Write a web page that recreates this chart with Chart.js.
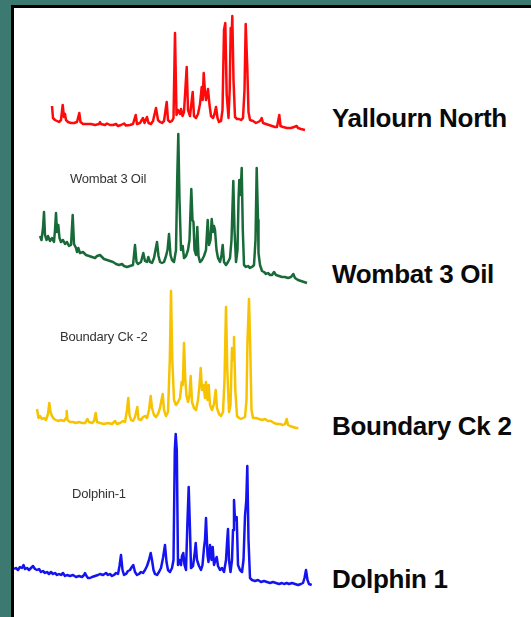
<!DOCTYPE html>
<html>
<head>
<meta charset="utf-8">
<script src="https://cdn.jsdelivr.net/npm/chart.js@4.4.1/dist/chart.umd.min.js"></script>
<style>
  html, body { margin:0; padding:0; }
  body { width:531px; height:617px; background:#3c7a71; position:relative; overflow:hidden; font-family:"Liberation Sans", Arial, sans-serif; }
  #panel { position:absolute; left:11px; top:5px; width:520px; height:612px; background:#fff; border-left:3px solid #000; border-top:3px solid #000; }
  canvas { position:absolute; left:14px; }
  .big { position:absolute; left:332px; font-size:26px; line-height:26px; font-weight:bold; color:#0a0a0a; white-space:nowrap; letter-spacing:-0.3px; }
  .small { position:absolute; font-size:13px; line-height:13px; color:#333; white-space:nowrap; letter-spacing:-0.2px; }
</style>
</head>
<body>
<div id="panel"></div>
<canvas id="c1" width="300" height="125" style="top:10px"></canvas>
<canvas id="c2" width="300" height="160" style="top:130px"></canvas>
<canvas id="c3" width="300" height="150" style="top:285px"></canvas>
<canvas id="c4" width="300" height="165" style="top:430px"></canvas>
<div class="big" style="top:105px">Yallourn North</div>
<div class="big" style="top:261px">Wombat 3 Oil</div>
<div class="big" style="top:413px">Boundary Ck 2</div>
<div class="big" style="top:566px">Dolphin 1</div>
<div class="small" style="top:172px;left:70px">Wombat 3 Oil</div>
<div class="small" style="top:330px;left:60px">Boundary Ck -2</div>
<div class="small" style="top:487px;left:72px">Dolphin-1</div>
<script>
// Retention (scan) positions and detector signal for each sample
const yallournScan = [52,53,55,57,59,61,62.7,64,65,66,68,71,74,77,79.3,80.5,83,87,91,95,99,100,101,105,107,110,113,116,118,121,124,126,130,133,135.7,137,140,143,144.5,147,148.5,151,153,156,158,160,162,164,166.7,168,170,172,173.5,175,176.5,178,180,181,182.5,184,186.7,188,190,192.7,194,196,198,200,201.7,202.7,203.7,205,206,208,209.5,211,213,214.5,216,217.5,219,221,222.5,224,225.3,226.7,228.5,229.7,230.7,231.5,232.3,233.5,235,237,239,241,243,244.5,245.7,247.3,248.5,250,253,256,258,260,261.7,263,266,269,272,275,277,279.3,280.5,283,287,291,294,296.7,298,301,305];
const yallournSignal = [29,17,15,14,13,15,30,18,21,15,13,12,12,13,22,13,11,11,11,10,11,13,11,10,11.5,10,10,11,9,10,11.5,9.5,10,11,20,11,12,17,12,18,12,11,14,27,15,13,12,14,33,15,13,14,17,102,20,25,21,26,19,23,68,25,19,43,19,17,21,31,48,35,62,43,35,46,30,19,17,21,28,17,13,14,25,105,112,40,17,45,107,95,119,55,18,16,16,15,17,45,111,67,23,15,14,12,13,14,17,12,11,10,9,8,8,20,9,8,7,7,8,9,7,6,5];

const wombatScan = [40,41.5,43,44,45,46.5,48,50,52,54,55,56,57,58.3,59.5,61,63,65,67,69,71,72.7,74,76,77,78.3,80,83,86,89,92,95,97,100,102,104,107,110,113,116,119,122,124,127,130,133,135,136.5,138,141,143.3,145,147,148.3,150,152,154,157,158.5,160,162,164,166,167.5,169,170.5,172,174,176,177.2,178.3,179.5,181,182.7,184,186,188,189.5,191.3,192.5,193.5,194.5,196,197.3,198.5,200,202,204,206,207.7,209,210.5,211.7,213,214,215,216.5,218,220,221.5,222.7,224,226,228,230,231.5,233.3,234.5,236,237.5,238.5,239.3,240.5,241.7,242.8,244,246,248,250,252,254,255.5,256.7,258,258.5,260,262,264,266,268,270,272,274,276,279,282,285,288,291,293.3,295,298,301,304,307];
const wombatSignal = [54,50,62,78,55,50,54,49,52,48,60,77,58,65,52,48,50,46,48,44,45,75,46,42,38,42,37,38,35,34,33,32,34,35,33,31,30,29,28,26,25,26,24,23,24,25,45,28,26,28,37,29,28,33,28,27,32,48,34,28,27,28,34,40,56,35,30,28,40,110,156,90,40,44,32,34,40,50,101,70,68,40,35,63,34,28,30,34,40,70,45,50,71,58,64,60,40,32,28,35,45,28,25,28,32,50,109,60,28,40,90,110,95,122,60,25,23,24,22,23,25,50,122,70,37,25,19,18,16,17,15,15,18,15,14,13,13,12,13,16,12,10,9,8,7];

const boundaryScan = [37,38.5,40,42,44,46,48,49.3,50.5,52,54,56,58,61,64,66,66.7,67.5,70,73,76,79,82,85,87.5,89,92,94,95.7,97,100,104,108,112,115,117,120,123,125,127,128.3,129.5,131,133,135,137.3,138.5,141,143,145,147,149,150.7,152,154,156,158,160,161.5,162.7,164,166,168,169.8,171,172.3,174,176,178,180,181.7,182.8,184,185.3,186.5,188,189.5,190.7,192,194,196,198,199.5,200.7,202,203.5,205,206,207.5,208.7,210,212,214,215.7,217,219,221,223,224.5,226,227.3,229,230.5,232,233,234,235.3,237,239,241,243,245,246.5,247.5,249,250.3,251.5,253,256,259,262,265,268,271,274,277,280,283,285,286.7,288,290,293,296,298.3];
const boundarySignal = [26,17,19,16,17,15,21,32,23,19,16,15,14,15,14,17,24,15,13,13,12,13,12,12,16,13,12,14,22,13,12,11,12,11,14,11,12,14,13,25,37,20,15,14,18,28,16,15,18,19,17,25,39,27,20,18,21,27,35,41,25,19,23,75,144,75,35,30,33,37,53,50,92,55,39,33,40,59,33,27,25,35,50,67,45,50,37,53,35,50,30,25,31,45,27,21,19,23,55,128,65,23,30,87,75,98,45,19,17,16,17,18,35,95,136,85,25,17,17,16,15,16,14,14,12,11,11,10,11,16,10,9,8,7,7];

const dolphinScan = [14,16,18,20,22,23.5,25,27,29,31,33,35,37,39,41,43,45,47,49,51,53,55,57,59,61,63,65,67,70,73,76,79,82,84,85,86.5,88,90,92,95,98,100,103,106,108,110,112,114,116,118,119.5,121,122.5,124,126,128,130,131.8,133.3,135,137,139,141,143,145,147,149,150.7,152,153.5,155,157,159,161,163,165,166.5,168,170,172,173.5,174.8,175.7,176.8,178,179.3,181,182,183.3,184.5,186,187.5,188.7,190,191,193,194.5,195.7,197,199,201,202.5,204,205,206,207.5,208.5,210,211.5,212.7,214,215.5,216.7,218,220,222,224,226,227.2,228,229,230.5,232,233,234,235,236.7,238,240,242,243.5,245,246.3,247.3,248.5,250,252,255,258,261,264,267,270,273,276,279,282,284,286.7,289,292,295,298,301,303,304.5,306,307.5,309,311.7];
const dolphinSignal = [26,27,25,28,27,30,26,27,25,27,29,26,25,26,23,24,22,23,21,23,21,22,20,21,20,22,19,20,19,20,18,19,18,20,22,19,17,17,18,19,20,21,20,22,20,21,19,20,22,21,29,40,25,20,21,24,25,28,30,23,20,21,23,22,25,29,35,42,35,25,21,20,23,27,37,50,33,25,23,27,35,145,161,145,30,35,30,39,42,30,25,75,108,65,27,29,40,52,35,29,25,30,47,55,77,40,33,50,35,48,30,35,38,29,25,27,23,35,55,66,35,23,35,65,95,75,78,30,25,23,35,79,95,129,55,17,15,14,15,13,14,13,12,13,12,11,12,11,12,11,12,11,10,11,12,17,25,15,11,10];

// Vertical range of each trace's intensity axis
const yallournMax = 125, wombatMax = 160, boundaryMax = 150, dolphinMax = 165;
const scanMin = 14, scanMax = 314;

function draw(id, scans, signals, color, yMax) {
  const pts = scans.map((s, i) => ({ x: s, y: signals[i] }));
  new Chart(document.getElementById(id), {
    type: 'line',
    data: { datasets: [{ data: pts, borderColor: color, borderWidth: 2.5, pointRadius: 0, tension: 0, fill: false, clip: false, borderJoinStyle: 'round' }] },
    options: {
      responsive: false, animation: false, events: [],
      layout: { padding: 0 },
      plugins: { legend: { display: false }, tooltip: { enabled: false } },
      scales: {
        x: { type: 'linear', min: scanMin, max: scanMax, display: false },
        y: { min: 0, max: yMax, display: false }
      }
    }
  });
}
draw('c1', yallournScan, yallournSignal, '#ff0a0a', yallournMax);
draw('c2', wombatScan, wombatSignal, '#186b38', wombatMax);
draw('c3', boundaryScan, boundarySignal, '#f7c300', boundaryMax);
draw('c4', dolphinScan, dolphinSignal, '#1414f0', dolphinMax);
</script>
</body>
</html>
